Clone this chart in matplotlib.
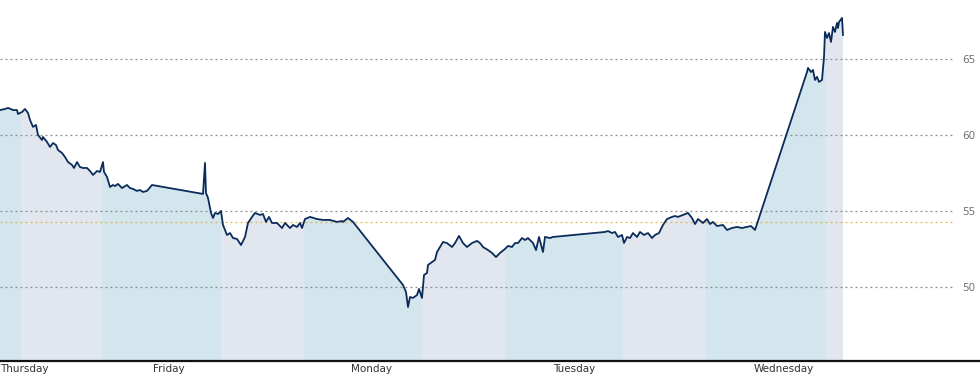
import numpy as np
import matplotlib
matplotlib.use("Agg")
import matplotlib.pyplot as plt

# time in hours from the left edge, price
hours = [0, 0.6, 0.96, 1.56, 2.04, 2.16, 2.64, 3.0, 3.36, 3.6, 3.96, 4.32, 4.56, 5.04, 5.16,
         5.64, 6.0, 6.36, 6.72, 6.96, 7.44, 7.8, 8.16, 8.64, 8.88, 9.24, 9.6, 9.96, 10.44, 10.8,
         11.16, 11.64, 12.0, 12.36, 12.48, 12.84, 13.2, 13.56, 13.8, 14.16, 14.64, 15.24, 15.6,
         15.96, 16.44, 16.8, 17.16, 17.64, 18.24,
         24.36, 24.6, 24.72, 24.96, 25.32, 25.56, 25.8, 26.16, 26.52, 26.76, 27.24, 27.6, 27.96,
         28.44, 28.92, 29.4, 29.76, 30.24, 30.6, 31.2, 31.56, 31.92, 32.28, 32.64, 33.24, 33.84,
         34.2, 34.8, 35.16, 35.64, 36.0, 36.24, 36.6, 37.2, 38.04, 38.76, 39.6, 40.44, 41.04,
         41.16, 41.76, 42.36,
         48.36, 48.72, 48.96, 49.2, 49.56, 50.04, 50.28, 50.64, 50.88, 51.24, 51.36, 51.84, 52.2,
         52.44, 52.8, 53.16, 53.64, 54.24, 54.6, 55.08, 55.56, 56.04, 56.64, 57.24, 57.6, 57.96,
         58.56, 59.04, 59.52, 60.0, 60.6, 60.96, 61.44, 61.8, 62.16, 62.64, 63.0, 63.36, 63.96,
         64.32, 64.68, 65.16, 65.4, 66.0, 66.36,
         72.6, 72.96, 73.44, 73.8, 74.16, 74.64, 74.88, 75.24, 75.6, 75.96, 76.44, 76.8, 77.28,
         77.76, 78.24, 78.6, 79.08, 79.56, 80.04, 80.64, 81.0, 81.36, 81.96, 82.56, 83.04, 83.4,
         83.76, 84.36, 84.84, 85.2, 85.56, 86.04, 86.76, 87.24, 87.84, 88.44, 89.04, 89.64,
         90.12, 90.6,
         96.84, 96.96, 97.32, 97.56, 97.8, 98.04, 98.28, 98.64, 98.88, 99.0, 99.24, 99.48, 99.72,
         99.96, 100.2, 100.44, 100.56, 100.68, 101.04, 101.16]
price = [61.64, 61.71, 61.78, 61.64, 61.64, 61.38, 61.51, 61.71, 61.45, 60.99, 60.53, 60.66,
         60.0, 59.67, 59.87, 59.54, 59.21, 59.47, 59.34, 59.01, 58.82, 58.55, 58.22, 58.03,
         57.83, 58.22, 57.89, 57.83, 57.83, 57.63, 57.37, 57.63, 57.57, 58.22, 57.57, 57.24,
         56.58, 56.71, 56.64, 56.78, 56.51, 56.71, 56.51, 56.45, 56.32, 56.38, 56.25, 56.32, 56.71,
         56.12, 58.16, 56.18, 55.86, 54.87, 54.54, 54.87, 54.80, 55.0, 54.08, 53.42, 53.55, 53.22,
         53.16, 52.76, 53.29, 54.21, 54.61, 54.87, 54.74, 54.80, 54.28, 54.61, 54.21, 54.21,
         53.88, 54.21, 53.88, 54.08, 53.95, 54.21, 53.88, 54.47, 54.61, 54.47, 54.41, 54.41,
         54.28, 54.34, 54.28, 54.54, 54.28,
         50.13, 49.67, 48.68, 49.34, 49.28, 49.47, 49.87, 49.28, 50.79, 50.92, 51.45, 51.64,
         51.78, 52.30, 52.63, 52.96, 52.89, 52.63, 52.89, 53.36, 52.89, 52.63, 52.89, 53.03,
         52.89, 52.63, 52.43, 52.24, 51.97, 52.24, 52.50, 52.70, 52.63, 52.89, 52.89, 53.22,
         53.09, 53.22, 52.89, 52.43, 53.29, 52.30, 53.29, 53.22, 53.29,
         53.62, 53.68, 53.55, 53.62, 53.29, 53.42, 52.89, 53.29, 53.22, 53.55, 53.29, 53.62,
         53.42, 53.55, 53.22, 53.42, 53.55, 54.08, 54.47, 54.61, 54.67, 54.61, 54.74, 54.87,
         54.54, 54.14, 54.47, 54.21, 54.47, 54.14, 54.28, 54.01, 54.08, 53.75, 53.88, 53.95,
         53.88, 53.95, 54.01, 53.75,
         64.14, 64.41, 64.14, 64.28, 63.62, 63.82, 63.49, 63.62, 65.13, 66.78, 66.38, 66.71,
         66.12, 67.11, 66.78, 67.37, 67.04, 67.43, 67.70, 66.58]

band_edges = [0, 2.5, 12.2, 26.5, 36.5, 50.6, 60.6, 74.8, 84.7, 99.0, 101.2]
band_colors = ['#d3e5ed', '#e2e7ef']

day_ticks = [0, 20.2, 44.6, 68.9, 94.0]
day_names = ['Thursday', 'Friday', 'Monday', 'Tuesday', 'Wednesday']

y_ticks = [50, 55, 60, 65]
prev_close = 54.28

ymin, ymax = 45.13, 68.88
xmax = 117.6
grid_end = 114.6

fig = plt.figure(figsize=(9.8, 3.81), dpi=100)
ax = fig.add_axes([0, 20 / 381, 1, 361 / 381])
ax.set_xlim(0, xmax)
ax.set_ylim(ymin, ymax)

# area under the line, used to clip the session bands
poly = ax.fill_between(hours, price, ymin - 5, color='none', lw=0)
clip = poly.get_paths()[0]
for i in range(len(band_edges) - 1):
    r = ax.axvspan(band_edges[i], band_edges[i + 1], color=band_colors[i % 2], lw=0, zorder=1)
    r.set_clip_path(clip, transform=ax.transData)

for y in y_ticks:
    ax.plot([0, grid_end], [y, y], color='#8a8a8a', lw=0.9, ls=(0, (1.5, 2.5)), zorder=2)
ax.plot([0, grid_end], [prev_close, prev_close], color='#e0b44a', lw=0.9, ls=(0, (1.5, 2.5)), zorder=2)

ax.plot(hours, price, color='#0b2c5a', lw=1.3, zorder=3)

for s in ['top', 'left', 'right']:
    ax.spines[s].set_visible(False)
ax.spines['bottom'].set_color('#111111')
ax.spines['bottom'].set_linewidth(1.6)

ax.yaxis.tick_right()
ax.set_yticks(y_ticks)
ax.set_yticklabels([str(y) for y in y_ticks])
ax.tick_params(axis='y', length=0, pad=-12.5, labelsize=7.5, labelcolor='#707070')

ax.set_xticks(day_ticks)
ax.set_xticklabels(day_names)
ax.tick_params(axis='x', length=0, pad=2, labelsize=7.5, labelcolor='#333333')
ax.get_xticklabels()[0].set_ha('left')

fig.savefig('out.png', dpi=100)
